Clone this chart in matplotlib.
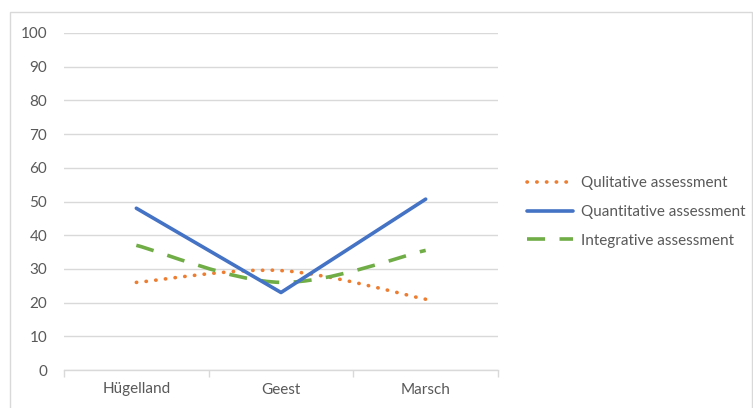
import matplotlib
matplotlib.use("Agg")
import matplotlib.pyplot as plt
from matplotlib.path import Path
from matplotlib.patches import PathPatch, Rectangle
from matplotlib.lines import Line2D

plt.rcParams["font.family"] = ["Lato", "DejaVu Sans"]

regions = ["Hügelland", "Geest", "Marsch"]
qualitative = [26, 29.5, 21]
quantitative = [48, 23, 50.7]
integrative = [37, 26, 35.5]
y_ticks = list(range(0, 101, 10))

ORANGE = "#ED7D31"
BLUE = "#4472C4"
GREEN = "#70AD47"
GRID = "#D9D9D9"
TEXT = "#595959"
FS = 11


def smooth_path(xs, ys):
    # excel-like smoothed line: cubic bezier with catmull-rom style handles
    n = len(xs)
    verts = [(xs[0], ys[0])]
    codes = [Path.MOVETO]
    for i in range(n - 1):
        p0 = max(i - 1, 0)
        p3 = min(i + 2, n - 1)
        c1 = (xs[i] + (xs[i + 1] - xs[p0]) / 6, ys[i] + (ys[i + 1] - ys[p0]) / 6)
        c2 = (xs[i + 1] - (xs[p3] - xs[i]) / 6, ys[i + 1] - (ys[p3] - ys[i]) / 6)
        verts += [c1, c2, (xs[i + 1], ys[i + 1])]
        codes += [Path.CURVE4] * 3
    return Path(verts, codes)


fig = plt.figure(figsize=(7.53, 4.08), dpi=100)
fig.patches.append(Rectangle((10 / 753, -0.05), 742 / 753, 1 - 12 / 408 + 0.05,
                             transform=fig.transFigure, fill=False,
                             ec=GRID, lw=1))
ax = fig.add_axes([64 / 753, 38 / 408, 434 / 753, 337 / 408])

x = list(range(len(regions)))
LW = 2.6
dot_style = (0, (0.1, 2.6))
dash_style = (0, (5.0, 4.0))

ax.add_patch(PathPatch(smooth_path(x, qualitative), fill=False, ec=ORANGE,
                       lw=LW, ls=dot_style, capstyle="round", zorder=3))
ax.plot(x, quantitative, color=BLUE, lw=LW, zorder=4, solid_capstyle="round")
ax.add_patch(PathPatch(smooth_path(x, integrative), fill=False, ec=GREEN,
                       lw=LW, ls=dash_style, capstyle="butt", zorder=3))

ax.set_xlim(-0.5, len(regions) - 0.5)
ax.set_ylim(0, 100)
ax.set_yticks(y_ticks)
ax.set_xticks(x)
ax.set_xticklabels(regions)
ax.set_xticks([i - 0.5 for i in range(len(regions) + 1)], minor=True)
ax.tick_params(axis="x", which="major", length=0, pad=9, labelsize=FS, labelcolor=TEXT)
ax.tick_params(axis="x", which="minor", length=5, color=GRID, width=1)
ax.tick_params(axis="y", length=0, pad=12, labelsize=FS, labelcolor=TEXT)
ax.yaxis.grid(True, color=GRID, lw=1)
ax.set_axisbelow(True)
for s in ["top", "right", "left"]:
    ax.spines[s].set_visible(False)
ax.spines["bottom"].set_color(GRID)
ax.spines["bottom"].set_linewidth(1)

handles = [
    Line2D([], [], color=ORANGE, lw=LW, ls=dot_style, dash_capstyle="round"),
    Line2D([], [], color=BLUE, lw=LW, solid_capstyle="round"),
    Line2D([], [], color=GREEN, lw=LW, ls=dash_style),
]
labels = ["Qulitative assessment", "Quantitative assessment", "Integrative assessment"]
fig.legend(handles, labels, loc="center left", bbox_to_anchor=(527 / 753, 1 - 212 / 408),
           frameon=False, fontsize=FS, labelcolor=TEXT, handlelength=46 / (FS * 100 / 72),
           handletextpad=0.5, labelspacing=0.95, borderpad=0, borderaxespad=0)

fig.savefig("out.png", dpi=100)
